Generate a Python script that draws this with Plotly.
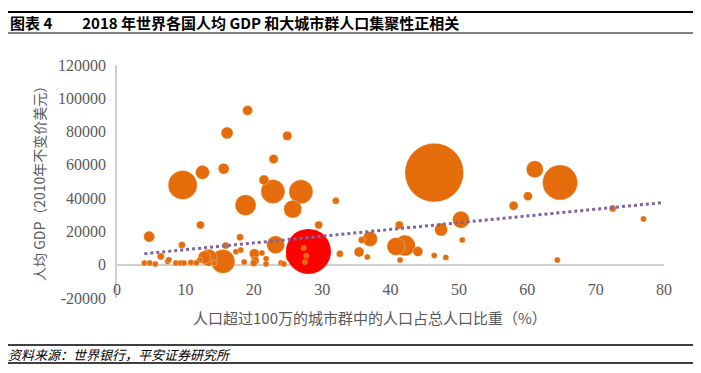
import plotly.graph_objects as go

# ---- data ----
# share of population in agglomerations > 1 million (%), GDP per capita (2010 USD), total GDP (bn 2010 USD, bubble size)
share = [19.1, 16.1, 24.9, 22.9, 12.5, 15.6, 9.6, 21.5, 22.8, 26.9, 18.8, 25.7, 12.2, 29.5, 32.0,
         41.3, 46.4, 50.3, 47.4, 50.5, 40.8, 42.1, 44.0, 41.4, 46.4, 48.1, 58.0, 61.1, 64.8, 60.1,
         72.5, 77.0, 64.4, 4.7, 9.5, 6.4, 18.0, 15.9, 15.5, 13.4, 12.8, 23.2, 20.1, 20.2, 21.8,
         21.2, 25.3, 32.6, 35.4, 37.0, 35.8, 36.6, 4.0, 4.8, 5.6, 7.4, 7.6, 8.6, 9.3, 9.8, 10.8,
         12.1, 17.4, 18.1, 18.6, 20.0, 21.8, 24.0, 24.4, 11.6, 14.2]
gdp_pc = [92700, 79200, 77400, 63500, 55500, 57700, 47900, 50900, 44000, 43800, 35800, 33400, 23900, 23900, 38400,
          23900, 55300, 27000, 21100, 14900, 11000, 11500, 7900, 2800, 5600, 4400, 35400, 57300, 49400, 41200,
          33800, 27500, 2800, 16900, 11900, 5000, 16500, 11500, 2000, 4200, 4400, 12000, 6600, 2600, 3600,
          7000, 4600, 6600, 7600, 15500, 14900, 4600, 1000, 1000, 500, 2000, 3000, 1000, 1000, 1000, 1400,
          2800, 7800, 8800, 1600, 1000, 500, 1000, 500, 1200, 1000]
gdp_total = [520, 750, 450, 450, 1020, 630, 4390, 520, 3000, 3000, 2300, 1690, 330, 330, 256,
             334, 18000, 1510, 880, 84, 1690, 2300, 520, 47, 64, 47, 423, 1510, 6400, 423,
             256, 130, 47, 632, 256, 256, 256, 256, 3000, 1510, 880, 1690, 522, 334, 188,
             130, 423, 256, 522, 1175, 256, 47, 130, 64, 47, 130, 64, 64, 64, 47, 130,
             130, 84, 84, 130, 256, 47, 84, 47, 47, 47]

# China (highlighted)
china_share = [28.0]
china_gdp_pc = [8000]
china_gdp_total = [10571]

# points drawn over the China bubble
inner_share = [27.3, 27.7, 27.5]
inner_gdp_pc = [10100, 5400, 1600]
inner_gdp_total = [84, 130, 47]

# linear trend line
trend_x = [4, 80]
trend_y = [6600, 37400]

x_ticks = [0, 10, 20, 30, 40, 50, 60, 70, 80]
y_ticks = [-20000, 0, 20000, 40000, 60000, 80000, 100000, 120000]

title_text = "图表 4　　2018 年世界各国人均 GDP 和大城市群人口集聚性正相关"
source_text = "资料来源：世界银行，平安证券研究所"
x_title = "人口超过100万的城市群中的人口占总人口比重（%）"
y_title = "人均 GDP（2010年不变价美元）"

# ---- figure ----
OFF = 8                      # page offset of the plot inside the browser window
W, H = 701 - OFF, 373 - OFF
ML = 117 - OFF
MT = 65 - OFF
PR = 664 - OFF               # right edge of plot area
PB = 298 - OFF               # bottom edge of plot area
MR, MB = W - PR, H - PB
PW, PH = PR - ML, PB - MT

def px_x(p):
    return (p - OFF - ML) / PW

def px_y(p):
    return (PB - (p - OFF)) / PH

ORANGE = "#E46C0A"
max_size = max(gdp_total + china_gdp_total)
sref = 2.0 * max_size / (58.7 ** 2)

order = sorted(range(len(share)), key=lambda i: -gdp_total[i])

fig = go.Figure()
fig.add_trace(go.Scatter(
    x=[share[i] for i in order], y=[gdp_pc[i] for i in order], mode="markers",
    marker=dict(size=[gdp_total[i] for i in order], sizemode="area", sizeref=sref, sizemin=3,
                color=ORANGE, opacity=1, line=dict(width=0.5, color="rgba(255,255,255,0.6)")),
    hoverinfo="skip", showlegend=False))
fig.add_trace(go.Scatter(
    x=china_share, y=china_gdp_pc, mode="markers",
    marker=dict(size=china_gdp_total, sizemode="area", sizeref=sref, sizemin=3,
                color="#FF0000", opacity=1, line=dict(width=0)),
    hoverinfo="skip", showlegend=False))
fig.add_trace(go.Scatter(
    x=inner_share, y=inner_gdp_pc, mode="markers",
    marker=dict(size=inner_gdp_total, sizemode="area", sizeref=sref, sizemin=3,
                color=ORANGE, opacity=1, line=dict(width=0)),
    hoverinfo="skip", showlegend=False))
fig.add_trace(go.Scatter(
    x=trend_x, y=trend_y, mode="lines",
    line=dict(color="#8064A2", width=3, dash="dot"),
    hoverinfo="skip", showlegend=False))

tick_font = dict(family="Liberation Serif, Times New Roman, serif", size=16, color="#595959")
cjk = "Noto Sans CJK SC, sans-serif"

fig.update_xaxes(range=[0, 80], tickvals=x_ticks, ticktext=[str(v) for v in x_ticks],
                 showgrid=False, zeroline=False, showline=False, ticks="",
                 tickfont=tick_font, ticklabelstandoff=-20)
fig.update_yaxes(range=[-20000, 120000], tickvals=y_ticks, ticktext=[str(v) for v in y_ticks],
                 showgrid=False, zeroline=True, zerolinecolor="#D0D0D0", zerolinewidth=1.5,
                 showline=True, linecolor="#D0D0D0", linewidth=1.5, ticks="",
                 tickfont=tick_font, ticklabelstandoff=6)

annotations = [
    dict(text="<b>" + title_text + "</b>", x=px_x(8), y=px_y(23), xref="paper", yref="paper",
         xanchor="left", yanchor="middle", showarrow=False,
         font=dict(family=cjk, size=15, color="#000000")),
    dict(text="<i>" + source_text + "</i>", x=px_x(6), y=px_y(354), xref="paper", yref="paper",
         xanchor="left", yanchor="middle", showarrow=False,
         font=dict(family=cjk, size=13, color="#000000")),
    dict(text=x_title, x=px_x(370), y=px_y(317), xref="paper", yref="paper",
         xanchor="center", yanchor="middle", showarrow=False,
         font=dict(family=cjk, size=15, color="#595959")),
    dict(text=y_title, x=px_x(39), y=px_y(180), xref="paper", yref="paper", textangle=-90,
         xanchor="center", yanchor="middle", showarrow=False,
         font=dict(family=cjk, size=14, color="#595959")),
]

shapes = [
    dict(type="line", xref="paper", yref="paper", x0=px_x(5), x1=px_x(695), y0=px_y(12), y1=px_y(12),
         line=dict(color="#000000", width=2)),
    dict(type="line", xref="paper", yref="paper", x0=px_x(5), x1=px_x(695), y0=px_y(33), y1=px_y(33),
         line=dict(color="#000000", width=1)),
    dict(type="line", xref="paper", yref="paper", x0=px_x(5), x1=px_x(695), y0=px_y(345), y1=px_y(345),
         line=dict(color="#000000", width=1.5)),
    dict(type="line", xref="paper", yref="paper", x0=px_x(5), x1=px_x(695), y0=px_y(363), y1=px_y(363),
         line=dict(color="#000000", width=1.5)),
]

fig.update_layout(width=W, height=H, margin=dict(l=ML, r=MR, t=MT, b=MB),
                  paper_bgcolor="white", plot_bgcolor="white",
                  annotations=annotations, shapes=shapes)

fig.write_html("out.html")
